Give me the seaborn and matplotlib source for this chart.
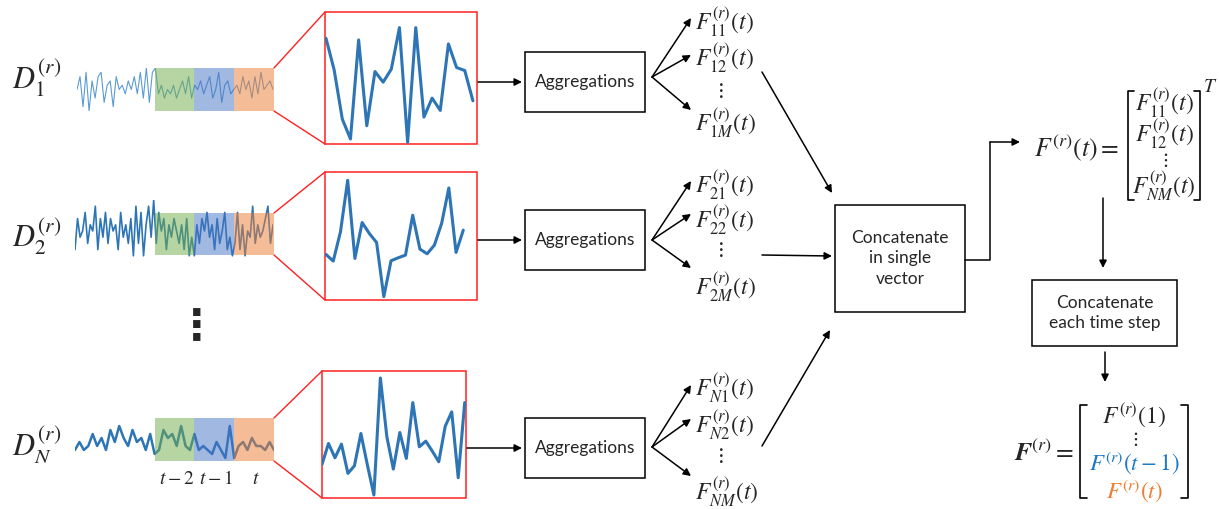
import numpy as np
import matplotlib.pyplot as plt
import seaborn as sns
from matplotlib.patches import Rectangle

sns.set_style('white')
plt.rcParams['font.family'] = ['Lato', 'DejaVu Sans']
plt.rcParams['mathtext.fontset'] = 'stix'

W, H = 1219, 509

# raw sensor signals (0-10 scale), left part + windows t-2, t-1, t
series_1 = [5, 8, 1, 9, 0, 7, 3, 8, 9, 2, 6, 7, 1, 8, 5, 6, 4, 7, 5, 8, 4, 9, 3, 10, 2, 9, 10,
            4, 6, 3, 5, 4, 6, 3, 5, 7, 4, 8, 3, 6,
            5, 7, 4, 6, 8, 3, 5, 9, 2, 6, 7, 4, 5,
            6, 4, 8, 5, 7, 3, 8, 4, 9, 5, 6, 7, 5]
series_2 = [2, 7, 4, 5, 8, 3, 6, 5, 9, 2, 7, 4, 8, 3, 7, 5, 6, 2, 8, 4, 6, 3, 7, 1, 9, 3, 8, 1, 6, 9, 4,
            10, 3, 8, 5, 7, 2, 6, 4, 7, 5, 3, 6, 2, 7, 1, 4,
            1, 6, 3, 7, 5, 8, 4, 6, 2, 7, 3, 5, 8, 2, 4, 1,
            3, 8, 2, 6, 1, 5, 4, 9, 3, 6, 4, 5, 7, 9, 3, 6]
series_n = [3, 5, 3, 4, 7, 4, 6, 3, 8, 5, 9, 6, 4, 8, 5, 6, 3, 7, 2,
            3, 8, 6, 7, 4, 9, 4, 3, 7,
            3, 4, 3, 2, 5, 3, 1, 9, 1,
            4, 5, 3, 6, 4, 4, 3, 5, 3]

# zoomed windows (heights inside the red boxes)
zoom_1 = [318, 223, 75, 15, 313, 55, 218, 186, 225, 350, 5, 350, 81, 138, 101, 301, 230, 221, 130]
zoom_2 = [137, 117, 205, 360, 125, 233, 200, 173, 10, 118, 127, 135, 255, 153, 139, 165, 230, 337, 143, 210]
zoom_n = [101, 164, 121, 162, 74, 97, 194, 99, 9, 361, 184, 87, 197, 119, 287, 154, 171, 141, 109,
          216, 259, 61, 287]

row_labels = [r'$D_1^{(r)}$', r'$D_2^{(r)}$', r'$D_N^{(r)}$']
feat_labels = [[r'$F_{11}^{(r)}(t)$', r'$F_{12}^{(r)}(t)$', r'$F_{1M}^{(r)}(t)$'],
               [r'$F_{21}^{(r)}(t)$', r'$F_{22}^{(r)}(t)$', r'$F_{2M}^{(r)}(t)$'],
               [r'$F_{N1}^{(r)}(t)$', r'$F_{N2}^{(r)}(t)$', r'$F_{NM}^{(r)}(t)$']]
win_labels = [r'$t-2$', r'$t-1$', r'$t$']

BLUE = '#2e75b6'
ORANGE = '#ed7d31'
MS = 17  # math text size

fig = plt.figure(figsize=(W / 100, H / 100), dpi=100)
bg = fig.add_axes([0, 0, 1, 1], zorder=0)
bg.set_xlim(0, W)
bg.set_ylim(H, 0)
bg.axis('off')
top = fig.add_axes([0, 0, 1, 1], zorder=3)
top.set_xlim(0, W)
top.set_ylim(H, 0)
top.axis('off')
top.patch.set_alpha(0)


def px_axes(x0, y0, x1, y1):
    ax = fig.add_axes([x0 / W, 1 - y1 / H, (x1 - x0) / W, (y1 - y0) / H], zorder=1)
    ax.axis('off')
    ax.patch.set_alpha(0)
    return ax


def arrow(ax, x0, y0, x1, y1):
    ax.annotate('', xy=(x1, y1), xytext=(x0, y0),
                arrowprops=dict(arrowstyle='-|>', color='black', lw=1.1,
                                mutation_scale=11, shrinkA=0, shrinkB=0))


def box(ax, x0, y0, x1, y1, text, fs=12.5):
    ax.add_patch(Rectangle((x0, y0), x1 - x0, y1 - y0, fill=False, ec='black', lw=1.1))
    ax.text((x0 + x1) / 2, (y0 + y1) / 2, text, ha='center', va='center',
            fontsize=fs, linespacing=1.35)


def bracket(ax, x, y0, y1, side, w=6, color='black'):
    d = w if side == 'left' else -w
    ax.plot([x + d, x, x, x + d], [y0, y0, y1, y1], color=color, lw=1.2)


# rows: signal series, zoom series and their pixel boxes
rows = [
    dict(s=series_1, z=zoom_1, sig=(77, 273, 68, 111), win=(68, 111), red=(325, 477, 12, 144),
         lw=0.8, col='#5b9bd5', zlim=397, zx=(-0.12, 18.5), agg=(52, 112), lab_y=78),
    dict(s=series_2, z=zoom_2, sig=(75, 273, 200, 262), win=(213, 255), red=(325, 477, 172, 300),
         lw=1.2, col=BLUE, zlim=385, zx=(-0.14, 20.9), agg=(210, 270), lab_y=237),
    dict(s=series_n, z=zoom_n, sig=(75, 274, 422, 462), win=(418, 461), red=(322, 466, 371, 498),
         lw=1.8, col=BLUE, zlim=382, zx=(0, 22.2), agg=(418, 478), lab_y=445),
]
feat_y = [(22, 58, 90, 123), (185, 220, 249, 287), (388, 425, 455, 492)]
tips = [(18, 55, 110), (181, 214, 268), (385, 419, 476)]
origins = [77, 240, 447]
wins = [(155, 194, '#70ad47'), (194, 234, '#4472c4'), (234, 274, ORANGE)]

for i, r in enumerate(rows):
    x0, x1, y0, y1 = r['sig']
    ax = px_axes(x0, y0, x1, y1)
    sns.lineplot(x=np.arange(len(r['s'])), y=r['s'], ax=ax, color=r['col'], lw=r['lw'])
    ax.set_xlim(0, len(r['s']) - 1)
    ax.set_ylim(0, 10)

    wy0, wy1 = r['win']
    for wx0, wx1, c in wins:
        top.add_patch(Rectangle((wx0, wy0), wx1 - wx0, wy1 - wy0, fc=c, alpha=0.5, lw=0))

    rx0, rx1, ry0, ry1 = r['red']
    bg.add_patch(Rectangle((rx0, ry0), rx1 - rx0, ry1 - ry0, fill=False, ec='#ff2020', lw=1.1))
    bg.plot([274, rx0], [wy0, ry0], color='#ff2020', lw=1.0)
    bg.plot([274, rx0], [wy1, ry1], color='#ff2020', lw=1.0)
    zax = px_axes(rx0, ry0, rx1, ry1)
    sns.lineplot(x=np.arange(len(r['z'])), y=r['z'], ax=zax, color=BLUE, lw=2.2)
    zax.set_xlim(*r['zx'])
    zax.set_ylim(0, r['zlim'])

    bg.text(37, r['lab_y'], row_labels[i], ha='center', va='center', fontsize=22)

    ay0, ay1 = r['agg']
    arrow(bg, rx1 + 1, (ay0 + ay1) / 2, 522, (ay0 + ay1) / 2)
    box(bg, 525, ay0, 645, ay1, 'Aggregations', fs=12.5)

    for ty in tips[i]:
        arrow(bg, 652, origins[i], 691, ty)
    fy = feat_y[i]
    bg.text(695, fy[0], feat_labels[i][0], ha='left', va='center', fontsize=MS)
    bg.text(695, fy[1], feat_labels[i][1], ha='left', va='center', fontsize=MS)
    bg.text(719, fy[2], r'$\vdots$', ha='center', va='center', fontsize=15)
    bg.text(695, fy[3], feat_labels[i][2], ha='left', va='center', fontsize=MS)

for (wx0, wx1, c), lab in zip(wins, win_labels):
    bg.text((wx0 + wx1) / 2 + 2, 478, lab, ha='center', va='center', fontsize=14)

bg.text(197, 327, '⋮', ha='center', va='center', fontsize=30, fontweight='bold',
        family='DejaVu Sans')

# concatenate in single vector
box(bg, 835, 205, 965, 312, 'Concatenate\nin single\nvector', fs=12.5)
arrow(bg, 762, 72, 832, 193)
arrow(bg, 762, 255, 832, 256)
arrow(bg, 762, 446, 830, 330)
bg.plot([965, 990, 990], [260, 260, 142], color='black', lw=1.1)
arrow(bg, 990, 142, 1020, 142)

# F(t) row vector
bg.text(1077, 148, r'$F^{(r)}(t) =$', ha='center', va='center', fontsize=18.5)
bracket(bg, 1128, 91, 200, 'left')
bracket(bg, 1200, 91, 200, 'right')
bg.text(1164, 103, r'$F_{11}^{(r)}(t)$', ha='center', va='center', fontsize=MS)
bg.text(1164, 134, r'$F_{12}^{(r)}(t)$', ha='center', va='center', fontsize=MS)
bg.text(1164, 160, r'$\vdots$', ha='center', va='center', fontsize=14)
bg.text(1164, 186, r'$F_{NM}^{(r)}(t)$', ha='center', va='center', fontsize=MS)
bg.text(1210, 86, r'$T$', ha='center', va='center', fontsize=14)

arrow(bg, 1103, 198, 1103, 268)
box(bg, 1032, 280, 1177, 346, 'Concatenate\neach time step', fs=12.5)
arrow(bg, 1105, 352, 1105, 382)

# final matrix
bg.text(1044, 453, r'$\boldsymbol{F}^{(r)} =$', ha='center', va='center', fontsize=18.5)
bracket(bg, 1080, 405, 498, 'left', w=7)
bracket(bg, 1188, 405, 498, 'right', w=7)
bg.text(1134, 416, r'$F^{(r)}(1)$', ha='center', va='center', fontsize=17)
bg.text(1134, 439, r'$\vdots$', ha='center', va='center', fontsize=14)
bg.text(1134, 463, r'$F^{(r)}(t-1)$', ha='center', va='center', fontsize=16.5, color='#1f78c8')
bg.text(1134, 491, r'$F^{(r)}(t)$', ha='center', va='center', fontsize=16.5, color=ORANGE)

fig.savefig('out.png', dpi=100)
